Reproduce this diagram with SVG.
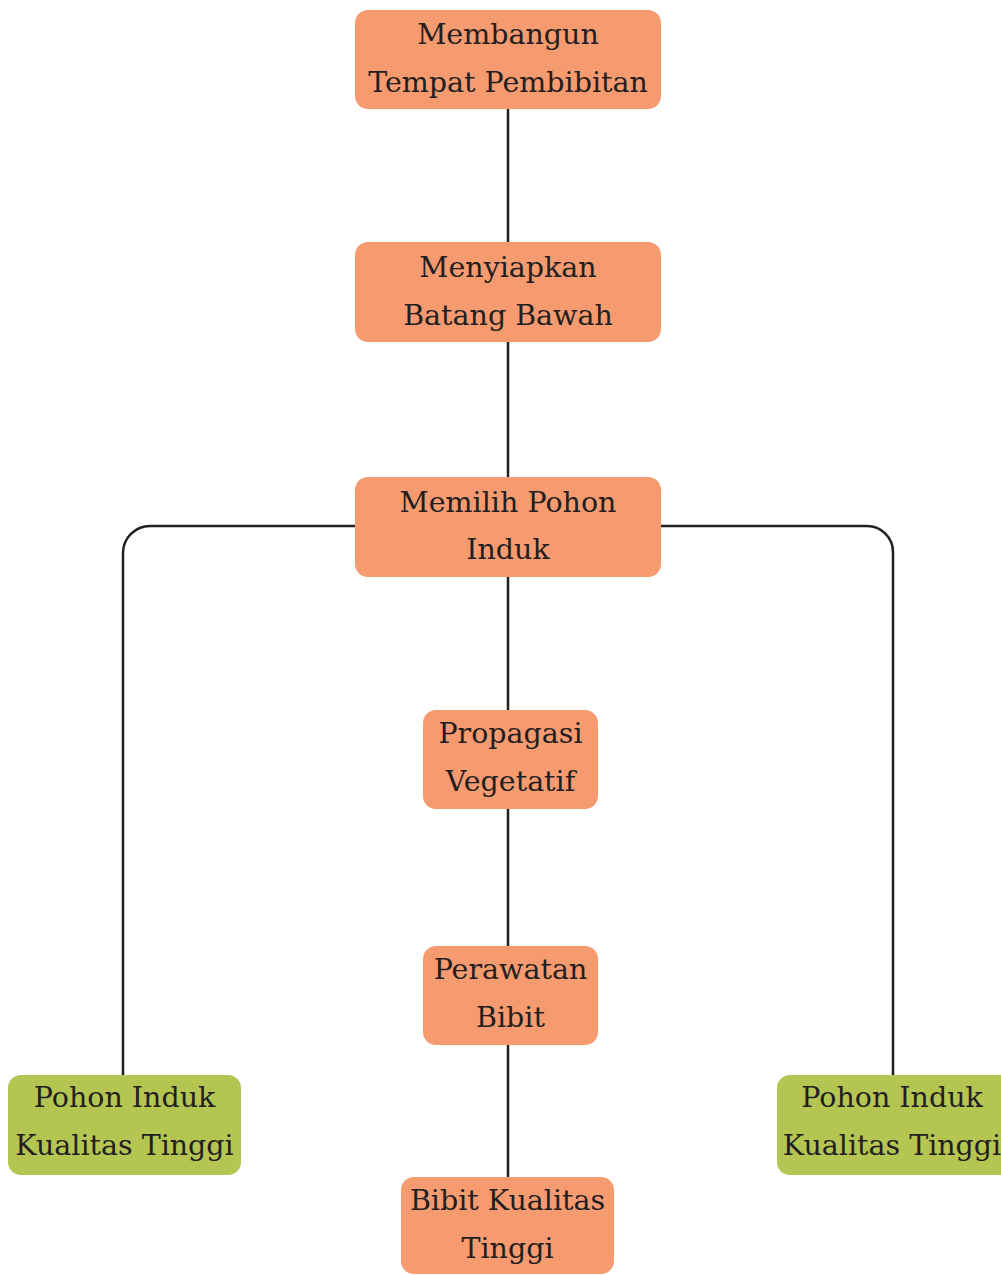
<svg xmlns="http://www.w3.org/2000/svg" width="1001" height="1275" viewBox="0 0 1001 1275">
<style>
.o{fill:#F69A70}
.g{fill:#B5C552}
.t{font-family:"DejaVu Serif","Liberation Serif",serif;font-size:28.5px;fill:#231F20;text-anchor:middle}
.c{fill:none;stroke:#231F20;stroke-width:2.5}
</style>
<rect width="1001" height="1275" fill="#fff"/>
<g id="connectors">
<path class="c" d="M508 109V242M508 342V477M508 577V710M508 809V946M508 1045V1177"/>
<path class="c" d="M355 526H150A27 27 0 0 0 123 553V1075"/>
<path class="c" d="M661 526H867A26 26 0 0 1 893 552V1075"/>
</g>
<g id="n1"><rect class="o" x="355" y="10" width="306" height="99" rx="13"/><text class="t" x="508" y="44">Membangun</text><text class="t" x="508" y="92">Tempat Pembibitan</text></g>
<g id="n2"><rect class="o" x="355" y="242" width="306" height="100" rx="13"/><text class="t" x="508" y="277">Menyiapkan</text><text class="t" x="508" y="325">Batang Bawah</text></g>
<g id="n3"><rect class="o" x="355" y="477" width="306" height="100" rx="13"/><text class="t" x="508" y="512">Memilih Pohon</text><text class="t" x="508" y="559">Induk</text></g>
<g id="n4"><rect class="o" x="423" y="710" width="175" height="99" rx="13"/><text class="t" x="510.5" y="743">Propagasi</text><text class="t" x="510.5" y="791">Vegetatif</text></g>
<g id="n5"><rect class="o" x="423" y="946" width="175" height="99" rx="13"/><text class="t" x="510.5" y="979">Perawatan</text><text class="t" x="510.5" y="1027">Bibit</text></g>
<g id="n6"><rect class="o" x="401" y="1177" width="213" height="97" rx="13"/><text class="t" x="507.5" y="1210">Bibit Kualitas</text><text class="t" x="507.5" y="1258">Tinggi</text></g>
<g id="n7"><rect class="g" x="8" y="1075" width="233" height="100" rx="13"/><text class="t" x="124.5" y="1107">Pohon Induk</text><text class="t" x="124.5" y="1155">Kualitas Tinggi</text></g>
<g id="n8"><rect class="g" x="777" y="1075" width="240" height="100" rx="13"/><text class="t" x="892" y="1107">Pohon Induk</text><text class="t" x="892" y="1155">Kualitas Tinggi</text></g>
</svg>
